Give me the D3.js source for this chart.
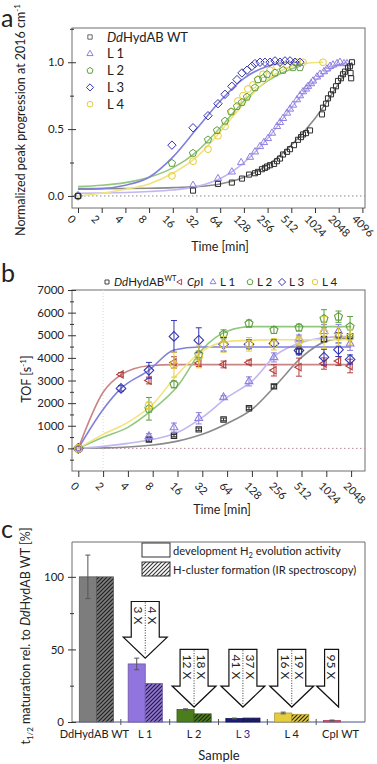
<!DOCTYPE html>
<html>
<head>
<meta charset="utf-8">
<script src="https://cdn.jsdelivr.net/npm/d3@7"></script>
<style>
  body { margin: 0; background: #fff; }
  svg text { font-family: Lato, "Open Sans", sans-serif; fill: #222; }
</style>
</head>
<body>
<svg id="chart" width="377" height="764"></svg>
<script>
// ---------------- data: panel a (IR peak progression) ----------------
var tickLabelsA = ["0","2","4","8","16","32","64","128","256","512","1024","2048","4096"];
var tickTimesA = [1,2,4,8,16,32,64,128,256,512,1024,2048,4096];

var wtTimeA = [0,28.9,60,90,121,149,177,193,217,237,252,275,309,337,368,402,452,493,554,623,680,721,787,885,1256,1294,1413,1498,1635,1734,1892,2006,2190,2322,2462,2688,2851,2900,2950,3022];
var wtValA  = [0,0.04,0.09,0.10,0.13,0.16,0.17,0.18,0.20,0.21,0.22,0.23,0.24,0.26,0.28,0.31,0.33,0.35,0.38,0.42,0.44,0.46,0.47,0.49,0.61,0.66,0.69,0.73,0.76,0.79,0.82,0.86,0.88,0.91,0.93,0.96,0.97,0.92,0.88,1.0];
var l1TimeA = [0,28.9,60,90,118,153,177,205,230,259,291,337,368,402,452,493,538,605,660,721,787,835,911,966,1086,1185,1333,1454,1588,1734,1948,2127,2392,2610];
var l1ValA  = [0,0.08,0.13,0.18,0.25,0.29,0.33,0.37,0.40,0.43,0.47,0.52,0.55,0.58,0.62,0.65,0.68,0.72,0.75,0.78,0.80,0.82,0.84,0.86,0.89,0.91,0.93,0.95,0.97,0.98,0.99,1.0,0.99,0.99];
var l2TimeA = [0,15.6,28.9,44.8,58.3,73.7,87.8,104.6,121,140,177,193,224,252,318,402,538,660];
var l2ValA  = [0,0.245,0.32,0.42,0.49,0.56,0.63,0.67,0.70,0.74,0.81,0.87,0.88,0.91,0.92,0.94,0.96,0.96];
var l3TimeA = [0,15.6,28.9,44.8,60,73.7,90,104.6,121,140,162,177,205,237,275,318,368,426,493,571,660];
var l3ValA  = [0,0.38,0.51,0.60,0.69,0.76,0.82,0.87,0.92,0.94,0.97,0.99,1.0,1.0,1.0,1.01,1.0,1.01,1.01,1.0,1.0];
var l4TimeA = [0,15.6,28.9,44.8,60,73.7,90,107.7,124.7,144,167,193,224,275,337,452,605,721,1294];
var l4ValA  = [0,0.15,0.26,0.35,0.45,0.52,0.63,0.71,0.75,0.80,0.83,0.87,0.91,0.94,0.97,0.98,1.0,1.0,1.0];

// fitted curves
var wtFitTA = [0,2,4,8,16,32,64,128,256,512,1024,2048,3022];
var wtFitVA = [0.055,0.055,0.056,0.058,0.062,0.07,0.09,0.14,0.23,0.38,0.58,0.84,1.0];
var l1FitTA = [0,2,4,8,16,32,64,128,256,512,1024,2048,2610];
var l1FitVA = [0.02,0.022,0.026,0.033,0.045,0.07,0.13,0.25,0.43,0.66,0.86,0.98,1.0];
var l2FitTA = [0,2,4,8,16,32,64,128,256,512,660];
var l2FitVA = [0.07,0.08,0.10,0.14,0.21,0.33,0.51,0.71,0.86,0.95,0.97];
var l3FitTA = [0,2,4,8,16,32,64,128,256,512,660];
var l3FitVA = [0.05,0.055,0.08,0.14,0.29,0.50,0.71,0.88,0.97,1.0,1.0];
var l4FitTA = [0,2,4,8,16,32,64,128,256,512,721,1294];
var l4FitVA = [0,0.02,0.05,0.09,0.17,0.29,0.48,0.69,0.87,0.97,0.99,1.0];

// ---------------- data: panel b (TOF) ----------------
var tickLabelsB = ["0","2","4","8","16","32","64","128","256","512","1024","2048"];
var tickTimesB = [1,2,4,8,16,32,64,128,256,512,1024,2048];
var timesB = [0,3.3,7.2,14.5,29,58,118,237,477,960,1440,1990];
var wtB   = [0,null,390,560,840,1280,1770,2740,4290,4820,5000,4960];
var wtErrB = [0,0,80,50,60,60,60,80,100,100,100,100];
var cpiB  = [0,3270,3000,3800,3770,3710,3800,3450,3590,3750,3860,3640];
var cpiErrB = [0,80,150,250,150,150,100,250,400,250,200,300];
var l1B   = [0,null,530,920,1330,2250,2960,4020,4860,5180,5180,4630];
var l1ErrB = [0,0,120,200,250,80,200,200,150,300,300,300];
var l2B   = [0,null,1750,2830,4150,5040,5520,5230,5340,5730,5820,5380];
var l2ErrB = [0,0,500,150,150,200,150,150,150,400,250,450];
var l3B   = [0,2650,3450,4950,4780,4600,4600,4640,4330,4030,4360,3930];
var l3ErrB = [0,120,350,700,550,300,200,150,200,350,300,200];
var l4B   = [0,null,1900,3700,4060,4600,4600,4600,4730,5120,4950,4920];
var l4ErrB = [0,0,150,550,500,350,300,250,200,700,400,350];

var fitTB = [0,2,4,8,16,32,64,128,256,512,1024,2048];
var wtFitB = [0,20,60,150,320,620,1100,1720,2830,4020,4740,4900];
var l1FitB = [0,90,220,400,700,1370,2250,2970,4150,4680,4900,4950];
var l2FitB = [0,490,930,1720,2750,4370,5180,5380,5380,5380,5380,5380];
var l4FitB = [0,620,1150,1950,3270,4300,4720,4780,4800,4800,4800,4800];
var l3FitTB = [0,2,3.3,7.2,14.5,29,2048];
var l3FitB = [0,1720,2650,3450,4350,4480,4480];
var cpiFitTB = [0,2,3.3,7.2,14.5,2048];
var cpiFitB = [0,2480,3250,3650,3700,3700];

// ---------------- data: panel c (maturation half-times) ----------------
var samplesC = ["DdHydAB WT","L 1","L 2","L 3","L 4","CpI WT"];
var activityC = [100,40,8.6,2.4,6.2,1.05];
var activityErrC = [15,4,0.5,0.3,0.6,0.3];
var irC = [100,26.5,5.6,2.7,5.3,null];
var arrowSamplesC = ["L 1","L 2","L 3","L 4","CpI WT"];
var foldActC = ["3 X","12 X","41 X","16 X","95 X"];
var foldIrC  = ["4 X","18 X","37 X","19 X",null];

// ---------------- colours ----------------
var col = {
  wt: "#2e2e2e", wtLine: "#8a8a8a",
  l1: "#8f7fdf", l1Line: "#c0b6f2",
  l2: "#5f9f41", l2Line: "#92c77e",
  l3: "#3535b0", l3Line: "#8080dc",
  l4: "#e3cc38", l4Line: "#f1e37c",
  cpi: "#b6403f", cpiLine: "#c98585"
};

var svg = d3.select("#chart");

// marker shapes as custom d3 symbol types (size = radius)
function polySym(n, rot) {
  return { draw: function(ctx, r) {
    for (var i = 0; i < n; i++) {
      var a = rot + i * 2 * Math.PI / n;
      var px = r * Math.sin(a), py = -r * Math.cos(a);
      if (i) ctx.lineTo(px, py); else ctx.moveTo(px, py);
    }
    ctx.closePath();
  }};
}
var shapes = {
  square: polySym(4, Math.PI / 4),
  triUp: polySym(3, 0),
  triLeft: polySym(3, -Math.PI / 2),
  pent: polySym(5, 0),
  diamond: polySym(4, 0),
  circle: { draw: function(ctx, r) { ctx.moveTo(r, 0); ctx.arc(0, 0, r, 0, 2 * Math.PI); } }
};
function sym(shape, r) { return d3.symbol().type(shapes[shape]).size(r)(); }

function styleAxis(g, fs) {
  g.attr("font-family", "Lato, 'Open Sans', sans-serif").attr("font-size", fs);
  g.select(".domain").remove();
  g.selectAll(".tick line").attr("stroke", "#333");
  g.selectAll(".tick text").attr("fill", "#222");
}

function yAxisCross(g, scale, x0, major, minor, fmt) {
  var a = g.append("g").attr("transform", "translate(" + x0 + ",0)")
    .call(d3.axisLeft(scale).tickValues(major).tickFormat(fmt).tickSize(4).tickPadding(4));
  styleAxis(a, 11.5);
  a.selectAll(".tick line").attr("x1", 4);
  var m = g.append("g").attr("transform", "translate(" + x0 + ",0)")
    .call(d3.axisLeft(scale).tickValues(minor).tickFormat("").tickSize(2));
  styleAxis(m, 11.5);
  m.selectAll(".tick line").attr("x1", 2);
}

function xAxisRot(g, scale, y0, vals, labels, tick, off) {
  var a = g.append("g").attr("transform", "translate(0," + y0 + ")")
    .call(d3.axisBottom(scale).tickValues(vals).tickFormat(function(d, i) { return labels[i]; }).tickSize(tick));
  styleAxis(a, 11);
  a.selectAll(".tick text").attr("x", 0).attr("y", 0).attr("dy", "0.35em")
    .attr("text-anchor", "start")
    .attr("transform", "translate(" + off[0] + "," + off[1] + ") rotate(45)");
}

function box(g, x0, y0, x1, y1) {
  g.append("rect").attr("x", x0).attr("y", y0).attr("width", x1 - x0).attr("height", y1 - y0)
    .attr("fill", "none").attr("stroke", "#6e6e6e").attr("stroke-width", 1);
}

function panelLetter(t, x, y) {
  svg.append("text").attr("x", x).attr("y", y).attr("font-size", 25).text(t);
}

// =========================== panel a ===========================
var ga = svg.append("g");
var xA = d3.scaleLog().base(2).domain([1, 4096]).range([78, 362.4]);
var yA = d3.scaleLinear().domain([-0.09, 1.256]).range([208, 28]);
function xa(t) { return xA(Math.max(t, 1)); }

panelLetter("a", 1, 27);
box(ga, 72, 28, 365, 208);
ga.append("line").attr("x1", 72).attr("x2", 365).attr("y1", yA(0)).attr("y2", yA(0))
  .attr("stroke", "#888").attr("stroke-dasharray", "1.5,2.5");

yAxisCross(ga, yA, 72, [0, 0.5, 1], [0.25, 0.75, 1.25], d3.format(".1f"));
xAxisRot(ga, xA, 208, tickTimesA, tickLabelsA, 5, [-9, 9]);

ga.append("text").attr("x", 220).attr("y", 251).attr("text-anchor", "middle")
  .attr("font-size", 12.5).text("Time [min]");
var yt = ga.append("text").attr("transform", "translate(25,120) rotate(-90)")
  .attr("text-anchor", "middle").attr("font-size", 12.5);
yt.append("tspan").text("Normalized peak progression at 2016 cm");
yt.append("tspan").attr("font-size", 8).attr("dy", -5).text("-1");

var seriesA = [
  { t: wtTimeA, v: wtValA, ft: wtFitTA, fv: wtFitVA, shape: "square", r: 3.6, c: col.wt, lc: col.wtLine },
  { t: l1TimeA, v: l1ValA, ft: l1FitTA, fv: l1FitVA, shape: "triUp", r: 4.2, c: col.l1, lc: col.l1Line },
  { t: l2TimeA, v: l2ValA, ft: l2FitTA, fv: l2FitVA, shape: "pent", r: 3.8, c: col.l2, lc: col.l2Line },
  { t: l3TimeA, v: l3ValA, ft: l3FitTA, fv: l3FitVA, shape: "diamond", r: 4.2, c: col.l3, lc: col.l3Line },
  { t: l4TimeA, v: l4ValA, ft: l4FitTA, fv: l4FitVA, shape: "circle", r: 3.4, c: col.l4, lc: col.l4Line }
];

var lineA = d3.line().x(function(d) { return xa(d[0]); }).y(function(d) { return yA(d[1]); })
  .curve(d3.curveMonotoneX);
seriesA.forEach(function(s) {
  ga.append("path").attr("d", lineA(d3.zip(s.ft, s.fv))).attr("fill", "none")
    .attr("stroke", s.lc).attr("stroke-width", 1.6);
});
seriesA.slice().reverse().forEach(function(s) {
  ga.append("g").selectAll("path").data(d3.zip(s.t, s.v)).enter().append("path")
    .attr("transform", function(d) { return "translate(" + xa(d[0]) + "," + yA(d[1]) + ")"; })
    .attr("d", sym(s.shape, s.r)).attr("fill", "none").attr("stroke", s.c).attr("stroke-width", 1);
});

// legend a
var legLabelsA = [["Dd", "HydAB WT"], ["", "L 1"], ["", "L 2"], ["", "L 3"], ["", "L 4"]];
var legA = ga.append("g");
seriesA.forEach(function(s, i) {
  var y = 37 + i * 16.8;
  legA.append("path").attr("transform", "translate(90," + y + ")")
    .attr("d", sym(s.shape, s.r * 0.85)).attr("fill", "none")
    .attr("stroke", i === 0 ? "#666" : s.c).attr("stroke-width", 1);
  var t = legA.append("text").attr("x", 107).attr("y", y + 4.5).attr("font-size", 13);
  if (legLabelsA[i][0]) t.append("tspan").attr("font-style", "italic").text(legLabelsA[i][0]);
  t.append("tspan").text(legLabelsA[i][1]);
});

// =========================== panel b ===========================
var gb = svg.append("g");
var xB = d3.scaleLog().base(2).domain([1, 2048]).range([78.3, 351.1]);
var yB = d3.scaleLinear().domain([-1000, 7000]).range([471, 290]);
function xb(t) { return xB(Math.max(t, 1)); }

panelLetter("b", 1, 282);
box(gb, 72, 290, 365, 471);
gb.append("line").attr("x1", xb(2)).attr("x2", xb(2)).attr("y1", 290).attr("y2", 471)
  .attr("stroke", "#d8d8d8").attr("stroke-dasharray", "1,2");
gb.append("line").attr("x1", 72).attr("x2", 365).attr("y1", yB(0)).attr("y2", yB(0))
  .attr("stroke", "#b88a9a").attr("stroke-dasharray", "1.5,2.5");

yAxisCross(gb, yB, 72, d3.range(0, 7001, 1000), d3.range(-500, 7000, 1000), d3.format("d"));
xAxisRot(gb, xB, 471, tickTimesB, tickLabelsB, 6, [-6, 13]);

gb.append("text").attr("x", 222).attr("y", 514).attr("text-anchor", "middle")
  .attr("font-size", 12.5).text("Time [min]");
var ytb = gb.append("text").attr("transform", "translate(31,379) rotate(-90)")
  .attr("text-anchor", "middle").attr("font-size", 12.5);
ytb.append("tspan").text("TOF [s");
ytb.append("tspan").attr("font-size", 8).attr("dy", -5).text("-1");
ytb.append("tspan").attr("dy", 5).text("]");

var seriesB = [
  { v: wtB, e: wtErrB, ft: fitTB, fv: wtFitB, shape: "square", r: 3.8, c: col.wt, lc: col.wtLine },
  { v: cpiB, e: cpiErrB, ft: cpiFitTB, fv: cpiFitB, shape: "triLeft", r: 4.3, c: col.cpi, lc: col.cpiLine },
  { v: l1B, e: l1ErrB, ft: fitTB, fv: l1FitB, shape: "triUp", r: 4.5, c: col.l1, lc: col.l1Line },
  { v: l2B, e: l2ErrB, ft: fitTB, fv: l2FitB, shape: "pent", r: 4.2, c: col.l2, lc: col.l2Line },
  { v: l3B, e: l3ErrB, ft: l3FitTB, fv: l3FitB, shape: "diamond", r: 4.8, c: col.l3, lc: col.l3Line },
  { v: l4B, e: l4ErrB, ft: fitTB, fv: l4FitB, shape: "circle", r: 3.7, c: col.l4, lc: col.l4Line }
];

var lineB = d3.line().x(function(d) { return xb(d[0]); }).y(function(d) { return yB(d[1]); })
  .curve(d3.curveMonotoneX);
seriesB.forEach(function(s) {
  gb.append("path").attr("d", lineB(d3.zip(s.ft, s.fv))).attr("fill", "none")
    .attr("stroke", s.lc).attr("stroke-width", 1.6);
});
seriesB.forEach(function(s) {
  var pts = timesB.map(function(t, i) { return { t: t, v: s.v[i], e: s.e[i] }; })
    .filter(function(d) { return d.v !== null; });
  var g = gb.append("g");
  pts.filter(function(d) { return d.e > 0; }).forEach(function(d) {
    var x = xb(d.t);
    g.append("line").attr("x1", x).attr("x2", x).attr("y1", yB(d.v - d.e)).attr("y2", yB(d.v + d.e))
      .attr("stroke", s.c).attr("stroke-width", 1);
    [d.v - d.e, d.v + d.e].forEach(function(v) {
      g.append("line").attr("x1", x - 3).attr("x2", x + 3).attr("y1", yB(v)).attr("y2", yB(v))
        .attr("stroke", s.c).attr("stroke-width", 1);
    });
  });
  g.selectAll("path.m").data(pts).enter().append("path").attr("class", "m")
    .attr("transform", function(d) { return "translate(" + xb(d.t) + "," + yB(d.v) + ")"; })
    .attr("d", sym(s.shape, s.r)).attr("fill", "none").attr("stroke", s.c).attr("stroke-width", 1.1);
});

// legend b (single row above the box)
var legLabelsB = [["Dd", "HydAB", "WT"], ["Cp", "I", ""], ["", "L 1", ""], ["", "L 2", ""], ["", "L 3", ""], ["", "L 4", ""]];
var legXB = [107, 180, 213, 250, 282, 315];
seriesB.forEach(function(s, i) {
  gb.append("path").attr("transform", "translate(" + legXB[i] + ",282)")
    .attr("d", sym(s.shape, s.r * 0.75)).attr("fill", "none")
    .attr("stroke", i === 0 ? "#444" : s.c).attr("stroke-width", 1);
  var t = gb.append("text").attr("x", legXB[i] + 7).attr("y", 286).attr("font-size", 11.5);
  if (legLabelsB[i][0]) t.append("tspan").attr("font-style", "italic").text(legLabelsB[i][0]);
  t.append("tspan").text(legLabelsB[i][1]);
  if (legLabelsB[i][2]) t.append("tspan").attr("font-size", 7.5).attr("dy", -5).text(legLabelsB[i][2]);
});

// =========================== panel c ===========================
var gc = svg.append("g");
var xC = d3.scaleBand().domain(samplesC).range([72, 365]).paddingInner(0.3).paddingOuter(0.15);
var xSub = d3.scaleBand().domain(["act", "ir"]).range([0, xC.bandwidth()]);
var yC = d3.scaleLinear().domain([0, 124]).range([722, 542]);
var barCol = ["#7d7d7d", "#9274de", "#4b7d1d", "#1d1d78", "#e6cd3e", "#d2587a"];

panelLetter("c", 1, 538);

// hatch patterns
var defs = svg.append("defs");
function hatch(id, bg, fg) {
  var p = defs.append("pattern").attr("id", id).attr("patternUnits", "userSpaceOnUse")
    .attr("width", 4).attr("height", 4);
  p.append("rect").attr("width", 4).attr("height", 4).attr("fill", bg);
  p.append("path").attr("d", "M-1,1 l2,-2 M0,4 l4,-4 M3,5 l2,-2")
    .attr("stroke", fg).attr("stroke-width", 1.1);
}
barCol.forEach(function(c, i) { hatch("h" + i, c, "#1e1e1e"); });
hatch("hLeg", "#fff", "#333");

// frame: left, top, right gray; bottom axis
gc.append("path").attr("d", "M72,722 V542 H365 V722").attr("fill", "none").attr("stroke", "#6e6e6e");
gc.append("line").attr("x1", 72).attr("x2", 365).attr("y1", 722).attr("y2", 722)
  .attr("stroke", "#44508a").attr("stroke-width", 1);

yAxisCross(gc, yC, 72, [0, 50, 100], [25, 75], d3.format("d"));

// small ticks between samples
var bounds = samplesC.slice(1).map(function(d) { return xC(d) - xC.step() * xC.paddingInner() / 2; });
gc.selectAll("line.sep").data(bounds).enter().append("line").attr("class", "sep")
  .attr("x1", function(d) { return d; }).attr("x2", function(d) { return d; })
  .attr("y1", 719).attr("y2", 725).attr("stroke", "#555");

// bars
samplesC.forEach(function(s, i) {
  var x0 = xC(s);
  gc.append("rect").attr("x", x0 + xSub("act")).attr("width", xSub.bandwidth())
    .attr("y", yC(activityC[i])).attr("height", yC(0) - yC(activityC[i]))
    .attr("fill", barCol[i]).attr("stroke", d3.color(barCol[i]).darker(0.8)).attr("stroke-width", 0.8);
  if (irC[i] !== null) {
    gc.append("rect").attr("x", x0 + xSub("ir")).attr("width", xSub.bandwidth())
      .attr("y", yC(irC[i])).attr("height", yC(0) - yC(irC[i]))
      .attr("fill", "url(#h" + i + ")").attr("stroke", d3.color(barCol[i]).darker(0.8)).attr("stroke-width", 0.8);
  }
  var cx = x0 + xSub("act") + xSub.bandwidth() / 2;
  var lo = yC(activityC[i] - activityErrC[i]), hi = yC(activityC[i] + activityErrC[i]);
  gc.append("line").attr("x1", cx).attr("x2", cx).attr("y1", lo).attr("y2", hi).attr("stroke", "#555");
  [lo, hi].forEach(function(y) {
    gc.append("line").attr("x1", cx - 2.5).attr("x2", cx + 2.5).attr("y1", y).attr("y2", y).attr("stroke", "#555");
  });
});

// category labels
gc.selectAll("text.cat").data(samplesC).enter().append("text").attr("class", "cat")
  .attr("x", function(d, i) { return xC(d) + xC.bandwidth() / 2 + (i === 0 ? -2 : 0); })
  .attr("y", 738).attr("text-anchor", "middle").attr("font-size", 11)
  .style("fill", function(d) { return d === "L 3" ? "#2a2a90" : "#222"; })
  .text(function(d) { return d; });

gc.append("text").attr("x", 219).attr("y", 760).attr("text-anchor", "middle")
  .attr("font-size", 13).text("Sample");

var ytc = gc.append("text").attr("transform", "translate(30,636) rotate(-90)")
  .attr("text-anchor", "middle").attr("font-size", 12.5);
ytc.append("tspan").text("t");
ytc.append("tspan").attr("font-size", 8).attr("dy", 3).text("1/2");
ytc.append("tspan").attr("dy", -3).text(" maturation rel. to ");
ytc.append("tspan").attr("font-style", "italic").text("Dd");
ytc.append("tspan").text("HydAB WT [%]");

// legend c
gc.append("rect").attr("x", 142).attr("y", 543).attr("width", 28).attr("height", 14)
  .attr("fill", "#fff").attr("stroke", "#333");
gc.append("rect").attr("x", 142).attr("y", 562).attr("width", 28).attr("height", 14)
  .attr("fill", "url(#hLeg)").attr("stroke", "#333");
var lt1 = gc.append("text").attr("x", 173).attr("y", 555).attr("font-size", 11.2);
lt1.append("tspan").text("development H");
lt1.append("tspan").attr("font-size", 7.5).attr("dy", 3).text("2");
lt1.append("tspan").attr("dy", -3).text(" evolution activity");
gc.append("text").attr("x", 173).attr("y", 574).attr("font-size", 11.2)
  .text("H-cluster formation (IR spectroscopy)");

// fold-change arrows
var arrowTopC = [83, 50, 50, 50, 50];
var arrowTipC = [44, 10.3, 10.3, 10.3, 10.3];
arrowSamplesC.forEach(function(s, i) {
  var cx = xC(s) + xC.bandwidth() / 2;
  var top = yC(arrowTopC[i]), tip = yC(arrowTipC[i]), sb = tip - 21;
  var d;
  if (foldIrC[i] === null) {
    cx = cx - 2;
    d = "M" + (cx - 14) + "," + top + " H" + cx + " V" + tip + " L" + (cx - 22) + "," + sb +
        " H" + (cx - 14) + " Z";
  } else {
    d = "M" + (cx - 14) + "," + top + " H" + (cx + 14) + " V" + sb + " H" + (cx + 22) +
        " L" + cx + "," + tip + " L" + (cx - 22) + "," + sb + " H" + (cx - 14) + " Z";
  }
  gc.append("path").attr("d", d).attr("fill", "#fff").attr("stroke", "#111").attr("stroke-width", 1.2);
  if (foldIrC[i] !== null) {
    gc.append("line").attr("x1", cx).attr("x2", cx).attr("y1", top + 1).attr("y2", tip - 3)
      .attr("stroke", "#222").attr("stroke-width", 0.9).attr("stroke-dasharray", "1,1.5");
    gc.append("text").attr("transform", "translate(" + (cx + 7) + "," + (top + 5) + ") rotate(90)")
      .attr("dy", "0.35em").attr("font-size", 12).text(foldIrC[i]);
    gc.append("text").attr("transform", "translate(" + (cx - 7) + "," + (top + 5) + ") rotate(90)")
      .attr("dy", "0.35em").attr("font-size", 12).text(foldActC[i]);
  } else {
    gc.append("text").attr("transform", "translate(" + (cx - 7) + "," + (top + 5) + ") rotate(90)")
      .attr("dy", "0.35em").attr("font-size", 12).text(foldActC[i]);
  }
});
</script>
</body>
</html>
